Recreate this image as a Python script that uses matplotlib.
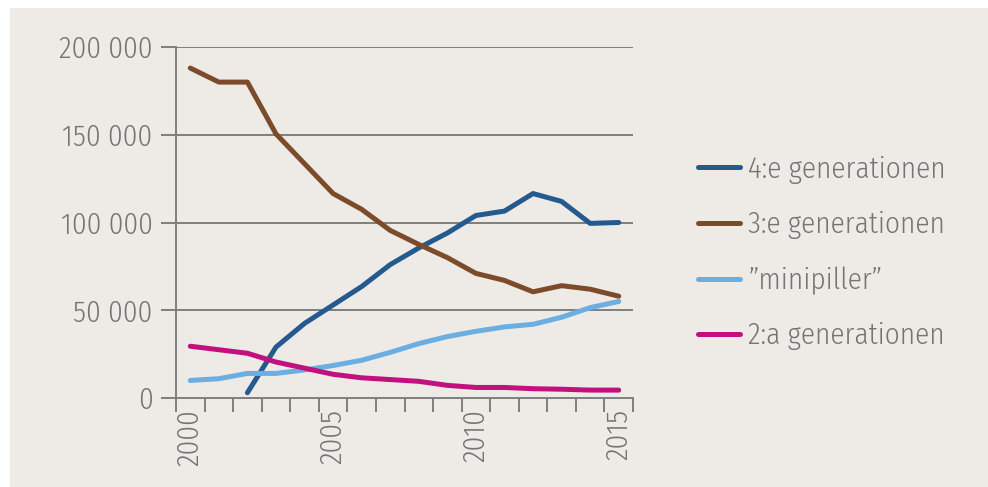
import matplotlib
matplotlib.use("Agg")
import matplotlib.pyplot as plt
from matplotlib.patches import Rectangle

years = list(range(2000, 2016))
gen4_years = list(range(2002, 2016))
gen4 = [3000, 29000, 42500, 53000, 63500, 76000, 85500, 94000, 104000, 106500, 116500, 112000, 99500, 100000]
gen3 = [188000, 180000, 180000, 150500, 133500, 116500, 107500, 95500, 87500, 80000, 71000, 67000, 60500, 64000, 62000, 58000]
mini = [10000, 11000, 14000, 14000, 16000, 18500, 21500, 26000, 31000, 35000, 38000, 40500, 42000, 46000, 51500, 55000]
gen2 = [29500, 27500, 25500, 20500, 17000, 13500, 11500, 10500, 9500, 7200, 6000, 6000, 5300, 5000, 4500, 4500]

labels = ["4:e generationen", "3:e generationen", "\u201dminipiller\u201d", "2:a generationen"]
colors = ["#245a8e", "#7b4b2a", "#6aaee2", "#c2117e"]
yticks = [0, 50000, 100000, 150000, 200000]
ytick_labels = ["0", "50 000", "100 000", "150 000", "200 000"]
xtick_years = [2000, 2005, 2010, 2015]

bg = "#eeebe7"
grid = "#7f7f7f"
txt = "#747474"
plt.rcParams['font.family'] = ['Fira Sans Condensed', 'DejaVu Sans']
plt.rcParams['font.weight'] = 300

fig = plt.figure(figsize=(9.88, 4.87), dpi=100)
fig.patch.set_facecolor("white")
fig.patches.append(Rectangle((10/988, 0), 1, 1 - 8/487, transform=fig.transFigure,
                             facecolor=bg, edgecolor="none", zorder=-10))

ax = fig.add_axes([176/988, 89/487, (633-176)/988, (398-47)/487])
ax.set_facecolor("none")

xs = [y - 2000 for y in years]
ax.plot([y - 2000 for y in gen4_years], gen4, color=colors[0], lw=3.6, solid_capstyle="butt", label=labels[0], zorder=3)
ax.plot(xs, gen3, color=colors[1], lw=3.6, solid_capstyle="butt", label=labels[1], zorder=3)
ax.plot(xs, mini, color=colors[2], lw=3.6, solid_capstyle="butt", label=labels[2], zorder=3)
ax.plot(xs, gen2, color=colors[3], lw=3.6, solid_capstyle="butt", label=labels[3], zorder=3)

ax.set_xlim(-0.5, 15.5)
ax.set_ylim(0, 200000)
for v in yticks[1:]:
    ax.axhline(v, color=grid, lw=1.4, zorder=1)

for s in ["top", "right"]:
    ax.spines[s].set_visible(False)
for s in ["left", "bottom"]:
    ax.spines[s].set_color(grid)
    ax.spines[s].set_linewidth(1.4)

ax.set_yticks(yticks)
ax.set_yticklabels(ytick_labels)
ax.tick_params(axis="y", length=11, width=1.4, color=grid, labelsize=21, labelcolor=txt, pad=6)

ax.set_xticks([i - 0.5 for i in range(17)])
ax.set_xticklabels([])
ax.set_xticks([y - 2000 for y in xtick_years], minor=True)
ax.set_xticklabels([str(y) for y in xtick_years], minor=True, rotation=90)
ax.tick_params(axis="x", which="major", length=10, width=1.4, color=grid)
ax.tick_params(axis="x", which="minor", length=0, labelsize=21, labelcolor=txt, pad=8)

handles, labs = ax.get_legend_handles_labels()
for h in handles:
    h.set_solid_capstyle("round")
leg = fig.legend(handles, labs, loc="upper left", bbox_to_anchor=(698/988, 1 - 155/487),
                 frameon=False, fontsize=21, labelcolor=txt, handlelength=1.45,
                 handletextpad=0.28, labelspacing=0.93, borderpad=0, borderaxespad=0)

fig.savefig("out.png", dpi=100, facecolor=fig.get_facecolor())
